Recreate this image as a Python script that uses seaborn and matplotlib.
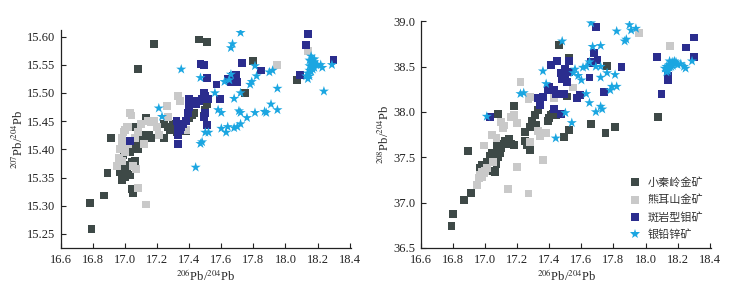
import numpy as np
import pandas as pd
import matplotlib
matplotlib.use("Agg")
import matplotlib.pyplot as plt
import seaborn as sns

# ---------------- data: left panel (206Pb/204Pb vs 207Pb/204Pb) ----------------
xq_206_L = [16.79, 16.78, 16.87, 16.89, 16.91, 16.98, 16.97, 17.00, 17.01, 17.00, 17.03, 17.04, 17.05,
            17.04, 17.06, 16.99, 17.03, 17.04, 17.08, 17.09, 17.06, 17.10, 17.11, 17.13, 17.15, 17.16,
            17.07, 17.13, 17.08, 17.18, 17.24, 17.24, 17.27, 17.28, 17.30, 17.32, 17.33, 17.38, 17.40,
            17.42, 17.43, 17.46, 17.51, 17.49, 17.50, 17.51, 17.75, 17.80, 18.07]
xq_207_L = [15.258, 15.305, 15.318, 15.358, 15.420, 15.345, 15.360, 15.372, 15.360, 15.350, 15.355, 15.330, 15.322,
            15.378, 15.380, 15.390, 15.395, 15.405, 15.400, 15.410, 15.415, 15.415, 15.420, 15.425, 15.425, 15.420,
            15.440, 15.455, 15.543, 15.587, 15.420, 15.445, 15.440, 15.435, 15.445, 15.430, 15.445, 15.433, 15.455,
            15.460, 15.465, 15.595, 15.590, 15.460, 15.470, 15.480, 15.500, 15.557, 15.523]

xe_206_L = [16.95, 16.96, 16.97, 16.98, 16.98, 16.99, 17.00, 17.01, 17.02, 17.03, 17.04, 17.00, 17.02,
            16.98, 17.05, 17.08, 17.13, 17.06, 17.08, 17.10, 17.14, 17.16, 17.18, 17.20, 17.21, 17.12,
            17.26, 17.27, 17.33, 17.34, 17.36, 17.38, 17.95, 18.14, 17.07]
xe_207_L = [15.370, 15.385, 15.400, 15.410, 15.420, 15.430, 15.435, 15.440, 15.440, 15.465, 15.460, 15.395, 15.410,
            15.380, 15.370, 15.332, 15.302, 15.420, 15.430, 15.445, 15.450, 15.448, 15.450, 15.440, 15.425, 15.410,
            15.477, 15.458, 15.495, 15.485, 15.445, 15.435, 15.550, 15.575, 15.365]

mo_206_L = [17.03, 17.32, 17.33, 17.33, 17.33, 17.34, 17.35, 17.36, 17.38, 17.39, 17.40, 17.40, 17.42,
            17.43, 17.44, 17.46, 17.48, 17.49, 17.49, 17.50, 17.52, 17.50, 17.49, 17.51, 17.47, 17.49,
            17.51, 17.57, 17.59, 17.64, 17.66, 17.67, 17.69, 17.70, 17.73, 17.85, 18.09, 18.14, 18.13, 18.30]
mo_207_L = [15.415, 15.450, 15.440, 15.425, 15.410, 15.435, 15.440, 15.445, 15.450, 15.465, 15.475, 15.490, 15.480,
            15.485, 15.480, 15.485, 15.490, 15.500, 15.490, 15.495, 15.490, 15.465, 15.458, 15.443, 15.552, 15.550,
            15.527, 15.515, 15.490, 15.525, 15.520, 15.530, 15.532, 15.520, 15.553, 15.540, 15.532, 15.605, 15.585, 15.558]

ag_206_L = [17.21, 17.23, 17.35, 17.44, 17.47, 17.48, 17.50, 17.52, 17.47, 17.56, 17.58, 17.60, 17.60,
            17.63, 17.64, 17.62, 17.65, 17.66, 17.66, 17.67, 17.72, 17.68, 17.68, 17.70, 17.71, 17.72,
            17.72, 17.72, 17.76, 17.78, 17.79, 17.81, 17.81, 17.82, 17.87, 17.88, 17.90, 17.91, 17.92,
            17.95, 17.95, 18.24, 18.22, 18.23, 18.29,
            18.13, 18.14, 18.15, 18.15, 18.16, 18.17, 18.16, 18.17, 18.18, 18.18, 18.19, 18.14, 18.15,
            18.16, 18.17, 18.20, 18.18, 18.15]
ag_207_L = [15.473, 15.458, 15.542, 15.368, 15.410, 15.413, 15.430, 15.430, 15.527, 15.500, 15.470, 15.465, 15.437,
            15.430, 15.440, 15.520, 15.523, 15.533, 15.580, 15.587, 15.607, 15.490, 15.438, 15.440, 15.468, 15.465,
            15.445, 15.500, 15.456, 15.515, 15.520, 15.465, 15.548, 15.530, 15.467, 15.465, 15.537, 15.480, 15.540,
            15.508, 15.470, 15.503, 15.550, 15.545, 15.550,
            15.530, 15.535, 15.540, 15.548, 15.555, 15.560, 15.565, 15.550, 15.545, 15.555, 15.550, 15.525, 15.530,
            15.538, 15.542, 15.550, 15.560, 15.558]

# ---------------- data: right panel (206Pb/204Pb vs 208Pb/204Pb) ----------------
xq_206_R = [16.79, 16.80, 16.87, 16.91, 16.89, 16.97, 16.98, 17.00, 17.01, 17.03, 17.04, 17.05, 17.06,
            17.07, 17.08, 17.09, 17.10, 17.07, 17.11, 17.12, 17.13, 17.15, 17.16, 17.18, 17.08, 17.18,
            17.25, 17.25, 17.26, 17.28, 17.28, 17.29, 17.30, 17.31, 17.33, 17.32, 17.39, 17.40, 17.41,
            17.42, 17.44, 17.46, 17.49, 17.51, 17.52, 17.52, 17.66, 17.75, 17.76, 17.81, 18.08]
xq_208_R = [36.74, 36.87, 37.03, 37.11, 37.57, 37.38, 37.42, 37.40, 37.45, 37.52, 37.55, 37.35, 37.34,
            37.43, 37.50, 37.55, 37.60, 37.63, 37.65, 37.68, 37.66, 37.70, 37.65, 37.64, 37.98, 38.07,
            37.78, 37.68, 37.63, 37.58, 37.83, 37.90, 37.84, 37.97, 38.02, 37.86, 37.90, 37.93, 37.97,
            37.98, 37.96, 38.74, 37.72, 38.17, 38.60, 37.80, 37.87, 37.77, 38.51, 37.83, 37.94]

xe_206_R = [16.95, 16.96, 16.97, 16.98, 16.99, 17.00, 17.01, 16.98, 16.99, 17.04, 17.05, 17.07, 17.10,
            17.11, 17.12, 17.14, 17.16, 17.18, 17.20, 17.20, 17.22, 17.27, 17.28, 17.27, 17.33, 17.34,
            17.36, 17.38, 17.43, 17.49, 17.55, 17.96, 18.15, 17.28]
xe_208_R = [37.19, 37.27, 37.30, 37.28, 37.33, 37.35, 37.38, 37.34, 37.63, 37.75, 37.45, 37.71, 37.89,
            37.82, 37.85, 37.15, 37.94, 37.97, 37.39, 37.88, 38.33, 38.14, 38.16, 37.10, 37.79, 37.73,
            37.47, 37.77, 38.15, 38.20, 38.27, 38.87, 38.73, 37.67]

mo_206_R = [17.03, 17.33, 17.34, 17.34, 17.36, 17.39, 17.40, 17.41, 17.43, 17.44, 17.43, 17.45, 17.47,
            17.47, 17.48, 17.49, 17.50, 17.50, 17.51, 17.52, 17.52, 17.57, 17.59, 17.65, 17.66, 17.67,
            17.68, 17.69, 17.70, 17.74, 17.85, 18.07, 18.10, 18.14, 18.14, 18.25, 18.30, 18.30]
mo_208_R = [37.94, 38.15, 38.13, 38.08, 38.16, 38.24, 38.28, 38.52, 38.24, 38.20, 38.03, 38.56, 38.43,
            37.98, 38.36, 38.20, 38.47, 38.36, 38.33, 38.44, 38.56, 38.15, 38.19, 38.38, 38.55, 38.54,
            38.65, 38.94, 38.57, 38.22, 38.50, 38.61, 38.20, 38.40, 38.35, 38.71, 38.82, 38.61]

ag_206_R = [17.01, 17.22, 17.24, 17.36, 17.38, 17.44, 17.48, 17.50, 17.54, 17.55, 17.56, 17.58, 17.60,
            17.61, 17.63, 17.63, 17.65, 17.65, 17.66, 17.67, 17.69, 17.69, 17.72, 17.72, 17.72, 17.72,
            17.73, 17.76, 17.78, 17.79, 17.81, 17.82, 17.82, 17.87, 17.88, 17.90, 17.91, 17.94,
            18.22, 18.24, 18.25, 18.29,
            18.12, 18.13, 18.14, 18.15, 18.15, 18.16, 18.17, 18.17, 18.18, 18.18, 18.19, 18.14, 18.16,
            18.13, 18.20, 18.15]
ag_208_R = [37.95, 38.20, 38.21, 38.45, 38.31, 37.71, 38.78, 37.99, 37.88, 38.43, 38.47, 38.40, 38.35,
            38.49, 38.20, 38.50, 38.10, 38.55, 38.98, 38.72, 38.50, 38.00, 38.06, 38.73, 38.38, 38.50,
            38.03, 38.43, 38.24, 38.28, 38.41, 38.28, 38.89, 38.78, 38.80, 38.96, 38.90, 38.92,
            38.53, 38.50, 38.48, 38.56,
            38.48, 38.50, 38.45, 38.52, 38.49, 38.54, 38.55, 38.51, 38.56, 38.53, 38.55, 38.47, 38.50,
            38.44, 38.52, 38.56]

groups = ["小秦岭金矿", "熊耳山金矿", "斑岩型钼矿", "银铅锌矿"]
x_ticks = [16.6, 16.8, 17.0, 17.2, 17.4, 17.6, 17.8, 18.0, 18.2, 18.4]
yL_ticks = [15.25, 15.30, 15.35, 15.40, 15.45, 15.50, 15.55, 15.60]
yR_ticks = [36.5, 37.0, 37.5, 38.0, 38.5, 39.0]

# ---------------- build tables ----------------
def table(sets, ycol):
    rows = []
    for g, (xs, ys) in zip(groups, sets):
        for a, b in zip(xs, ys):
            rows.append({"x": a, ycol: b, "type": g})
    return pd.DataFrame(rows)

dfL = table([(xq_206_L, xq_207_L), (xe_206_L, xe_207_L), (mo_206_L, mo_207_L), (ag_206_L, ag_207_L)], "y")
dfR = table([(xq_206_R, xq_208_R), (xe_206_R, xe_208_R), (mo_206_R, mo_208_R), (ag_206_R, ag_208_R)], "y")

sns.set_theme(style="white")
plt.rcParams["font.family"] = ["Liberation Serif", "Noto Sans CJK SC", "DejaVu Sans"]
plt.rcParams["mathtext.fontset"] = "stix"

palette = {groups[0]: "#3e4947", groups[1]: "#c9c9c9", groups[2]: "#2b2d8e", groups[3]: "#1ba6e1"}
markers = {groups[0]: "s", groups[1]: "s", groups[2]: "s", groups[3]: "*"}
sizes = {groups[0]: 32, groups[1]: 32, groups[2]: 32, groups[3]: 58}

fig = plt.figure(figsize=(7.44, 2.87), dpi=100)
axL = fig.add_axes([0.082, 0.136, 0.390, 0.760])
axR = fig.add_axes([0.566, 0.136, 0.390, 0.790])

for ax, df in [(axL, dfL), (axR, dfR)]:
    sns.scatterplot(data=df, x="x", y="y", hue="type", style="type", size="type",
                    hue_order=groups, style_order=groups, size_order=groups,
                    palette=palette, markers=markers, sizes=sizes,
                    edgecolor="none", linewidth=0, ax=ax, legend=(ax is axR))
    ax.set_xlim(16.6, 18.41)
    ax.set_xticks(x_ticks)
    ax.set_xticklabels([f"{v:.1f}" for v in x_ticks])
    for s in ["top", "right"]:
        ax.spines[s].set_visible(False)
    for s in ["left", "bottom"]:
        ax.spines[s].set_color("#222222")
        ax.spines[s].set_linewidth(0.9)
    ax.tick_params(direction="in", length=3.5, width=0.8, colors="#222222",
                   labelsize=9, left=True, bottom=True, pad=4)
    ax.set_xlabel(r"$^{206}$Pb/$^{204}$Pb", fontsize=9, labelpad=2)

axL.set_ylim(15.225, 15.612)
axL.set_yticks(yL_ticks)
axL.set_yticklabels([f"{v:.2f}" for v in yL_ticks])
axL.set_ylabel(r"$^{207}$Pb/$^{204}$Pb", fontsize=9, labelpad=1)

axR.set_ylim(36.5, 39.0)
axR.set_yticks(yR_ticks)
axR.set_yticklabels([f"{v:.1f}" for v in yR_ticks])
axR.set_ylabel(r"$^{208}$Pb/$^{204}$Pb", fontsize=9, labelpad=1)

h, l = axR.get_legend_handles_labels()
leg = axR.legend(h, l, loc="lower right", bbox_to_anchor=(1.0, 0.0), frameon=False,
                 handletextpad=0.2, labelspacing=0.6, borderaxespad=0.3,
                 prop={"family": ["Noto Sans CJK SC"], "size": 8})
for t in leg.get_texts():
    t.set_color("#333333")

fig.savefig("out.png", dpi=100)
